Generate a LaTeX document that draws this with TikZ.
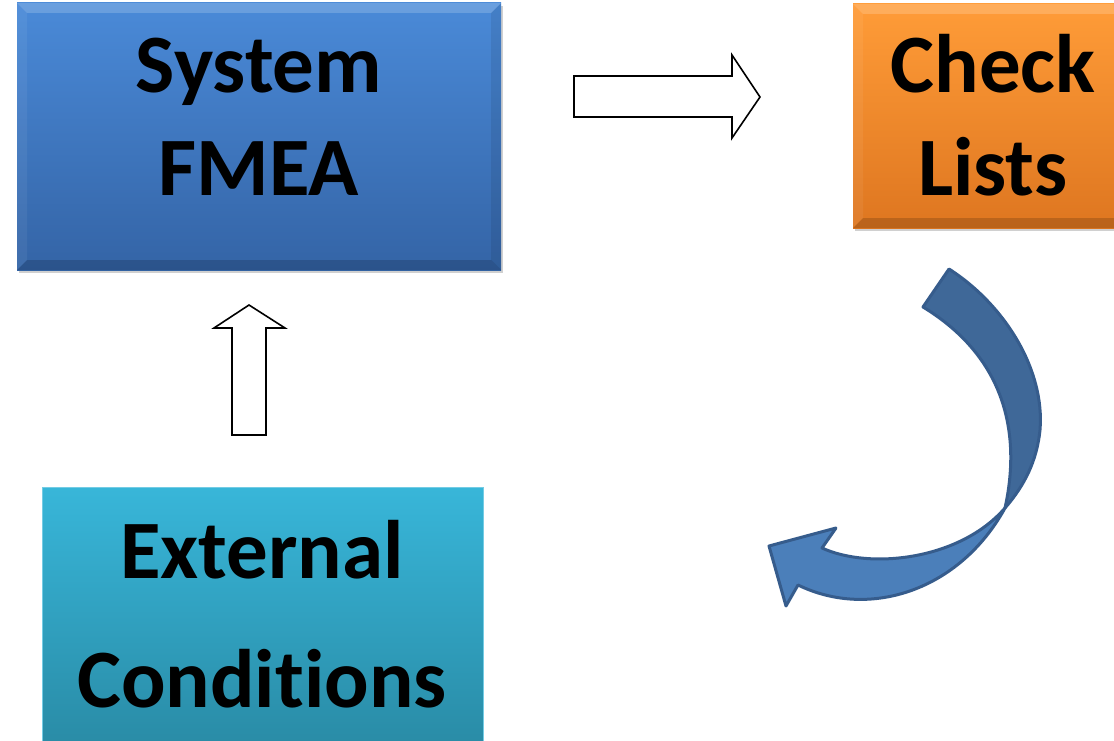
\documentclass[tikz,border=0pt]{standalone}
\usepackage{fontspec}
\setmainfont{Carlito}[Ligatures={NoCommon}]
\usetikzlibrary{shadows}
\definecolor{sysTop}{RGB}{74,138,216}
\definecolor{sysBot}{RGB}{52,100,166}
\definecolor{chkTop}{RGB}{255,156,56}
\definecolor{chkBot}{RGB}{222,118,32}
\definecolor{extTop}{RGB}{56,182,217}
\definecolor{extBot}{RGB}{40,136,162}
\definecolor{arrDark}{RGB}{63,104,152}
\definecolor{arrLight}{RGB}{75,127,186}
\definecolor{arrLine}{RGB}{54,92,140}
\begin{document}
\begin{tikzpicture}[x=1pt,y=-1pt,
  box/.style={draw=none, inner sep=0pt, outer sep=0pt},
  boxshadow/.style={drop shadow={shadow xshift=2pt, shadow yshift=-3pt, opacity=.3, fill=black!60}},
  bigtxt/.style={anchor=base, inner sep=0pt, text=black, font=\fontsize{83}{98}\selectfont\bfseries},
  exttxt/.style={anchor=base, inner sep=0pt, text=black, font=\fontsize{83}{98}\selectfont\bfseries},
  blockarrow/.style={draw=black, fill=white, line width=1.6pt, line join=miter},
  bevhi/.style={fill=white, fill opacity=.18, draw=none},
  bevhi2/.style={fill=white, fill opacity=.06, draw=none},
  bevlo/.style={fill=black, fill opacity=.08, draw=none},
  bevlo2/.style={fill=black, fill opacity=.16, draw=none},
  curvearrow/.style={draw=arrLine, line width=3pt, line join=round}
]
\clip (0,0) rectangle (1114,741);
\fill[white] (0,0) rectangle (1114,741);

% System FMEA box
\node[box, boxshadow, minimum width=484pt, minimum height=267pt,
      top color=sysTop, bottom color=sysBot] (sys) at (259,136.5) {};
\fill[bevhi]  (17,3) -- (501,3) -- (491,13) -- (27,13) -- cycle;
\fill[bevhi2] (17,3) -- (27,13) -- (27,260) -- (17,270) -- cycle;
\fill[bevlo]  (501,3) -- (501,270) -- (491,260) -- (491,13) -- cycle;
\fill[bevlo2] (17,270) -- (501,270) -- (491,260) -- (27,260) -- cycle;
\node[bigtxt] (sysA) at (259,93) {System};
\node[bigtxt] (sysB) at (259,195) {FMEA};

% Check Lists box
\node[box, boxshadow, minimum width=272pt, minimum height=224pt,
      top color=chkTop, bottom color=chkBot] (chk) at (989,116) {};
\fill[bevhi]  (853,4) -- (1125,4) -- (1115,14) -- (863,14) -- cycle;
\fill[bevhi2] (853,4) -- (863,14) -- (863,218) -- (853,228) -- cycle;
\fill[bevlo2] (853,228) -- (1125,228) -- (1115,218) -- (863,218) -- cycle;
\node[bigtxt] (chkA) at (993,93) {Check};
\node[bigtxt] (chkB) at (993,195) {Lists};

% External Conditions box
\node[box, minimum width=441pt, minimum height=280pt,
      top color=extTop, bottom color=extBot,
      draw=extTop!70!white, line width=0.8pt] (ext) at (262.5,627) {};
\node[exttxt] (extA) at (262,578) {External};
\node[exttxt] (extB) at (262,707) {Conditions};

% right block arrow
\draw[blockarrow] (574,76) -- (732,76) -- (732,55) -- (760,97) -- (732,138)
  -- (732,117) -- (574,117) -- cycle;

% up block arrow
\draw[blockarrow] (232,435) -- (232,328) -- (214,328) -- (249,305) -- (285,328)
  -- (266,328) -- (266,435) -- cycle;

% curved arrow: lower (light) part with head
\filldraw[curvearrow, fill=arrLight]
  (1005,508) .. controls (960,590) and (870,620) .. (798,585)
  -- (786,606) -- (769,546) -- (836,528) -- (822,548)
  .. controls (870,570) and (960,560) .. (1005,508) -- cycle;
% curved arrow: upper (dark) part
\filldraw[curvearrow, fill=arrDark]
  (949,269) .. controls (1005,305) and (1045,370) .. (1040,430)
  .. controls (1037,460) and (1025,485) .. (1005,508)
  .. controls (1020,440) and (1010,360) .. (923,307) -- cycle;
\end{tikzpicture}
\end{document}
